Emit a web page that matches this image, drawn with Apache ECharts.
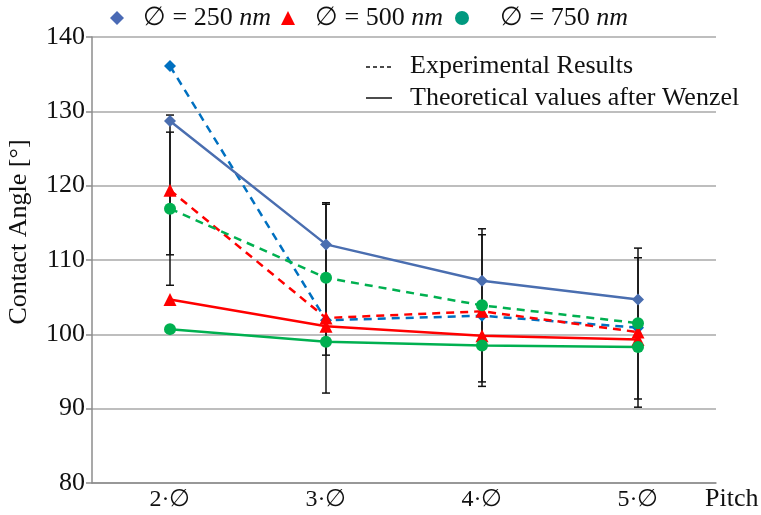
<!DOCTYPE html>
<html>
<head>
<meta charset="utf-8">
<script src="https://cdn.jsdelivr.net/npm/echarts@6/dist/echarts.min.js"></script>
<style>
  html, body { margin: 0; padding: 0; background: #fff; }
  #chart { width: 761px; height: 515px; }
</style>
</head>
<body>
<div id="chart"></div>
<script>
// Pitch categories (multiples of the pillar diameter)
var categories = ['2·∅', '3·∅', '4·∅', '5·∅'];
var yTicks = [80, 90, 100, 110, 120, 130, 140];

// Measured contact angles (dashed lines)
var exp250 = [136.1, 101.9, 102.5, 100.9];
var exp500 = [119.4, 102.2, 103.1, 100.3];
var exp750 = [116.9, 107.6, 103.9, 101.5];

// Wenzel model predictions (solid lines)
var theo250 = [128.7, 112.1, 107.2, 104.7];
var theo500 = [104.7, 101.1, 99.8, 99.3];
var theo750 = [100.7, 99.0, 98.5, 98.3];

// Error bars: [category index, lower, upper]
var errorBars = [
  [0, 106.6, 129.5], [0, 110.7, 127.2],
  [1, 92.1, 117.7],  [1, 97.2, 117.5],
  [2, 93.0, 114.2],  [2, 93.6, 113.4],
  [3, 90.2, 111.6],  [3, 91.3, 110.3]
];

var SERIF = '"Liberation Serif", "DejaVu Serif", serif';
var FS = 26;
var chart = echarts.init(document.getElementById('chart'));

function lineSeries(name, data, color, symbol, size, dashed) {
  return {
    name: name,
    type: 'line',
    data: data,
    symbol: symbol,
    symbolSize: size,
    z: 3,
    lineStyle: { color: color, width: 2.5, type: dashed ? [8, 6] : 'solid' },
    itemStyle: { color: color },
    emphasis: { disabled: true }
  };
}

function legendItem(left, gap, name, icon, color) {
  return {
    left: left, top: 0,
    icon: icon,
    itemWidth: 14, itemHeight: 14,
    selectedMode: false,
    data: [{ name: name, icon: icon, itemStyle: { color: color } }],
    formatter: function (n) {
      var num = n.replace('∅ = ', '').replace(' nm', '');
      return '{a|∅ = ' + num + ' }{b|nm}';
    },
    textStyle: {
      padding: [0, 0, 0, gap],
      rich: {
        a: { fontFamily: SERIF, fontSize: FS, color: '#111' },
        b: { fontFamily: SERIF, fontSize: FS, fontStyle: 'italic', color: '#111' }
      }
    }
  };
}

var option = {
  animation: false,
  backgroundColor: '#fff',
  grid: { left: 92, right: 45, top: 37, bottom: 32 },
  legend: [
    legendItem(105, 14, '∅ = 250 nm', 'diamond', '#4A6AB5'),
    legendItem(276, 15, '∅ = 500 nm', 'triangle', '#FF0000'),
    legendItem(450, 26, '∅ = 750 nm', 'circle', '#00997F')
  ],
  xAxis: {
    type: 'category',
    data: categories,
    boundaryGap: true,
    axisTick: { show: false },
    axisLine: { lineStyle: { color: '#8c8c8c', width: 1.5 } },
    axisLabel: { fontFamily: SERIF, fontSize: 24, color: '#111', margin: 5 }
  },
  yAxis: {
    type: 'value',
    min: yTicks[0],
    max: yTicks[yTicks.length - 1],
    interval: 10,
    axisLine: { show: true, lineStyle: { color: '#8c8c8c', width: 1.5 } },
    axisTick: { show: true, length: 6, lineStyle: { color: '#8c8c8c', width: 1.5 } },
    axisLabel: { fontFamily: SERIF, fontSize: FS, color: '#111', margin: 7 },
    splitLine: { lineStyle: { color: '#a8a8a8', width: 1.5 } }
  },
  graphic: [
    {
      type: 'text', x: 19, y: 232, rotation: Math.PI / 2,
      style: { text: 'Contact Angle [°]', fontFamily: SERIF, fontSize: FS, fill: '#111',
               textAlign: 'center', textVerticalAlign: 'middle' }
    },
    {
      type: 'text', x: 705, y: 499,
      style: { text: 'Pitch', fontFamily: SERIF, fontSize: FS, fill: '#111',
               textVerticalAlign: 'middle' }
    },
    {
      type: 'line', shape: { x1: 366, y1: 67, x2: 392, y2: 67 },
      style: { stroke: '#111', lineWidth: 1.3, lineDash: [4, 3] }
    },
    {
      type: 'text', x: 410, y: 66,
      style: { text: 'Experimental Results', fontFamily: SERIF, fontSize: FS, fill: '#111',
               textVerticalAlign: 'middle' }
    },
    {
      type: 'line', shape: { x1: 366, y1: 98, x2: 392, y2: 98 },
      style: { stroke: '#111', lineWidth: 1.5 }
    },
    {
      type: 'text', x: 410, y: 98,
      style: { text: 'Theoretical values after Wenzel', fontFamily: SERIF, fontSize: FS, fill: '#111',
               textVerticalAlign: 'middle' }
    }
  ],
  series: [
    {
      type: 'custom',
      name: 'error',
      data: errorBars,
      z: 2,
      renderItem: function (params, api) {
        var x = api.value(0);
        var lo = api.coord([x, api.value(1)]);
        var hi = api.coord([x, api.value(2)]);
        var w = 4;
        var st = { stroke: '#111', lineWidth: 1.5 };
        return {
          type: 'group',
          children: [
            { type: 'line', shape: { x1: lo[0], y1: lo[1], x2: hi[0], y2: hi[1] }, style: st },
            { type: 'line', shape: { x1: lo[0] - w, y1: lo[1], x2: lo[0] + w, y2: lo[1] }, style: st },
            { type: 'line', shape: { x1: hi[0] - w, y1: hi[1], x2: hi[0] + w, y2: hi[1] }, style: st }
          ]
        };
      }
    },
    lineSeries('∅ = 250 nm', exp250, '#0070C0', 'diamond', 12, true),
    lineSeries('theo250', theo250, '#4A6EB0', 'diamond', 12, false),
    lineSeries('∅ = 500 nm', exp500, '#FF0000', 'triangle', 13, true),
    lineSeries('theo500', theo500, '#FF0000', 'triangle', 13, false),
    lineSeries('∅ = 750 nm', exp750, '#00B050', 'circle', 12, true),
    lineSeries('theo750', theo750, '#00B050', 'circle', 12, false)
  ]
};

chart.setOption(option);
</script>
</body>
</html>
